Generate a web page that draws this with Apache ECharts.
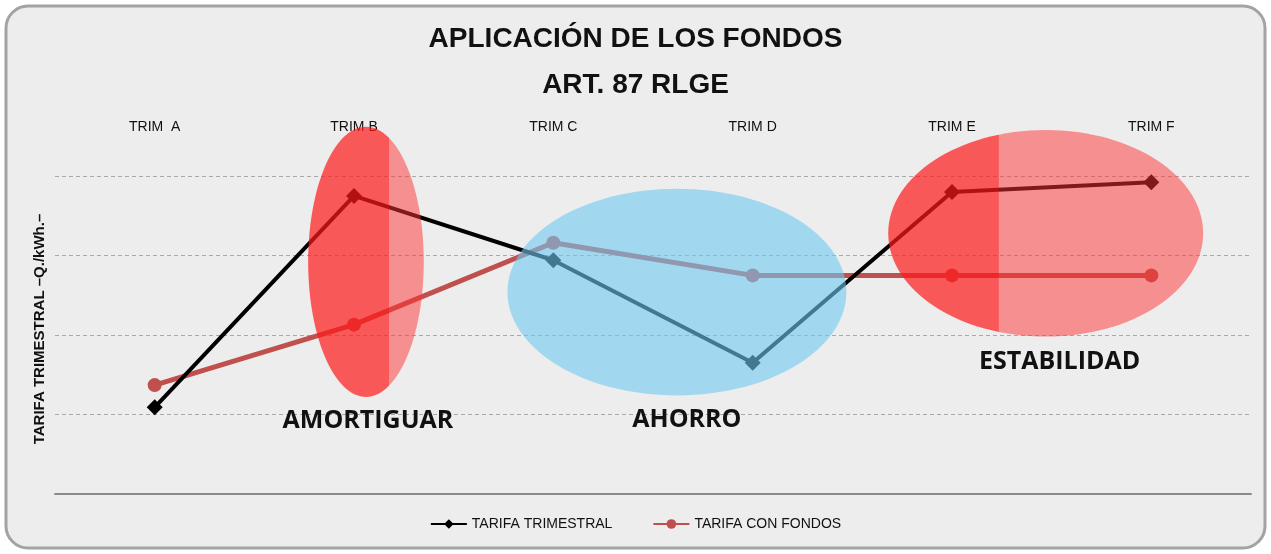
<!DOCTYPE html>
<html>
<head>
<meta charset="utf-8">
<script src="https://cdn.jsdelivr.net/npm/echarts@6/dist/echarts.min.js"></script>
<style>
html,body{margin:0;padding:0;background:#ffffff;}
#c{width:1271px;height:554px;}
</style>
</head>
<body>
<div id="c"></div>
<script>
const categories = ['TRIM  A', 'TRIM B', 'TRIM C', 'TRIM D', 'TRIM E', 'TRIM F'];
const tarifaTrimestral = [1.09, 3.75, 2.94, 1.65, 3.80, 3.92];
const tarifaConFondos = [1.37, 2.13, 3.16, 2.75, 2.75, 2.75];
const titleLines = ['APLICACIÓN DE LOS FONDOS', 'ART. 87 RLGE'];
const yAxisName = 'TARIFA TRIMESTRAL –Q./kWh.–';
const seriesNames = ['TARIFA TRIMESTRAL', 'TARIFA CON FONDOS'];
// annotation ellipses: centre in category index / value units, radii in same units
const zones = [
  { label: 'AMORTIGUAR', cx: 1.06, cy: 2.92, rx: 0.29, ry: 1.70, labelX: 1.07, labelY: 0.92, color: 'red', split: 0.70 },
  { label: 'AHORRO', cx: 2.62, cy: 2.54, rx: 0.85, ry: 1.30, labelX: 2.67, labelY: 0.93, color: 'blue', split: 0 },
  { label: 'ESTABILIDAD', cx: 4.47, cy: 3.28, rx: 0.79, ry: 1.30, labelX: 4.54, labelY: 1.66, color: 'red', split: 0.35 }
];

const chart = echarts.init(document.getElementById('c'));
const fontFam = '"Liberation Sans Narrow", "Liberation Sans", "Open Sans", sans-serif';
const option = {
  backgroundColor: 'transparent',
  animation: false,
  title: [
    { text: titleLines[0], left: 'center', top: 20, textStyle: { fontFamily: fontFam, fontSize: 28, fontWeight: 'bold', color: '#111' } },
    { text: titleLines[1], left: 'center', top: 66, textStyle: { fontFamily: fontFam, fontSize: 28, fontWeight: 'bold', color: '#111' } }
  ],
  legend: {
    bottom: 18, left: 'center', itemGap: 40, itemWidth: 36, itemHeight: 12,
    textStyle: { fontFamily: fontFam, fontSize: 14, color: '#111' },
    data: seriesNames
  },
  grid: { left: 55, right: 20, top: 176, bottom: 60 },
  xAxis: [
    { type: 'category', data: categories, position: 'bottom', boundaryGap: true,
      axisLine: { show: true, lineStyle: { color: '#8a8a8a', width: 2 } },
      axisTick: { show: false }, axisLabel: { show: false }, splitLine: { show: false } },
    { type: 'category', data: categories, position: 'top', boundaryGap: true,
      axisLine: { show: false }, axisTick: { show: false },
      axisLabel: { show: true, margin: 42, fontFamily: fontFam, fontSize: 14, color: '#111' } }
  ],
  yAxis: {
    type: 'value', min: 0, max: 4, interval: 1,
    name: yAxisName, nameLocation: 'middle', nameRotate: 90, nameGap: 8,
    nameTextStyle: { fontFamily: fontFam, fontSize: 15, fontWeight: 'bold', color: '#111', padding: [0, 0, 0, 12] },
    axisLine: { show: false }, axisTick: { show: false }, axisLabel: { show: false },
    splitLine: { show: true, lineStyle: { color: '#a8a8a8', type: [4, 3], width: 1 } }
  },
  series: [
    { name: seriesNames[0], type: 'line', data: tarifaTrimestral, symbol: 'diamond', symbolSize: 16,
      lineStyle: { color: '#000', width: 4 }, itemStyle: { color: '#000' }, z: 3 },
    { name: seriesNames[1], type: 'line', data: tarifaConFondos, symbol: 'circle', symbolSize: 14,
      lineStyle: { color: '#c0504d', width: 5 }, itemStyle: { color: '#c0504d' }, z: 2 }
  ]
};
chart.setOption(option);

function px(xv, yv) {
  const i0 = Math.floor(xv);
  const a = chart.convertToPixel({ xAxisIndex: 0, yAxisIndex: 0 }, [i0, yv]);
  const b = chart.convertToPixel({ xAxisIndex: 0, yAxisIndex: 0 }, [i0 + 1, yv]);
  return [a[0] + (b[0] - a[0]) * (xv - i0), a[1]];
}
const step = px(1, 0)[0] - px(0, 0)[0];
const unitY = px(0, 0)[1] - px(0, 1)[1];

const graphics = [
  { type: 'rect', z: -10, silent: true, shape: { x: 6, y: 6, width: 1259, height: 542, r: 22 },
    style: { fill: '#ededed', stroke: '#a3a3a3', lineWidth: 3 } }
];
zones.forEach(z => {
  const c = px(z.cx, z.cy);
  const rx = z.rx * step, ry = z.ry * unitY;
  let fill;
  if (z.color === 'red') {
    fill = new echarts.graphic.LinearGradient(0, 0, 1, 0, [
      { offset: 0, color: 'rgba(255,25,25,0.70)' },
      { offset: z.split, color: 'rgba(255,25,25,0.70)' },
      { offset: z.split + 0.001, color: 'rgba(255,50,50,0.50)' },
      { offset: 1, color: 'rgba(255,50,50,0.50)' }
    ]);
  } else {
    fill = 'rgba(110,200,240,0.6)';
  }
  graphics.push({ type: 'ellipse', z: 50, silent: true, shape: { cx: c[0], cy: c[1], rx: rx, ry: ry }, style: { fill: fill } });
  const l = px(z.labelX, z.labelY);
  graphics.push({ type: 'text', z: 60, silent: true, x: l[0], y: l[1],
    style: { text: z.label, fontFamily: '"Open Sans", sans-serif', fontSize: 25, fontWeight: 'bold', fill: '#111', align: 'center', verticalAlign: 'middle' } });
});
chart.setOption({ graphic: graphics });
</script>
</body>
</html>
